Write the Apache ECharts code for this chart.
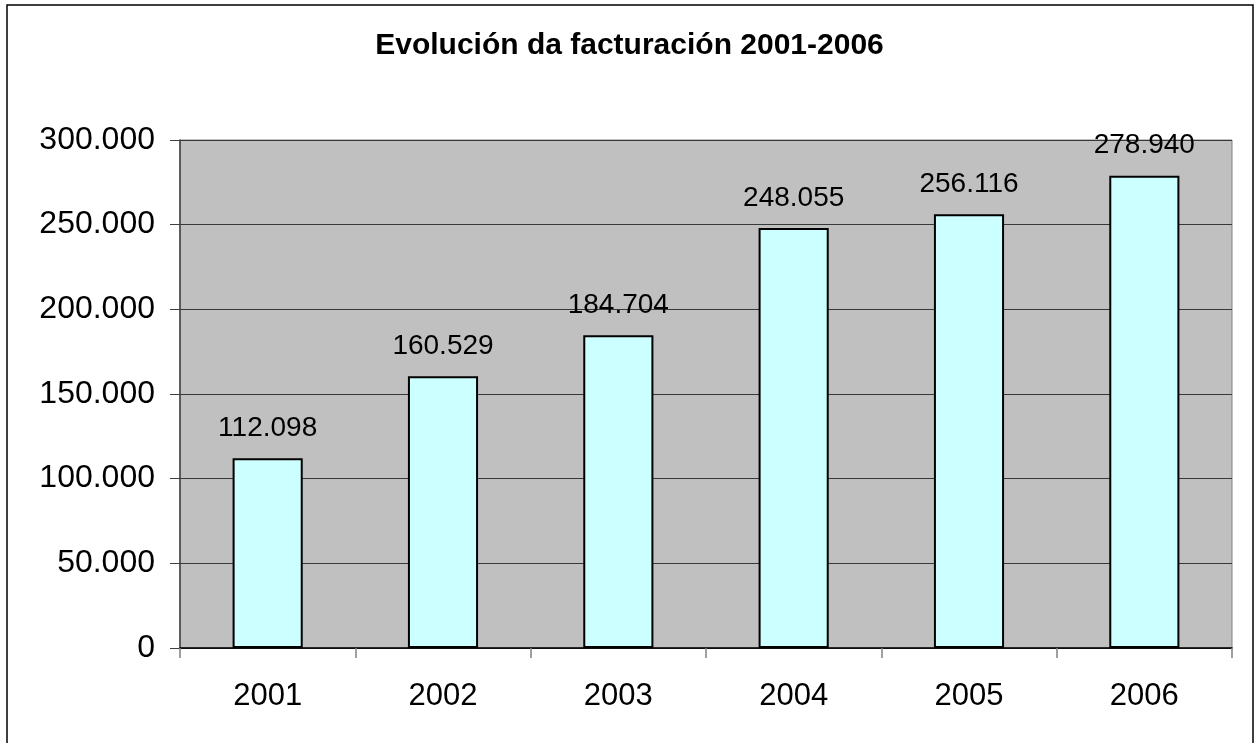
<!DOCTYPE html>
<html>
<head>
<meta charset="utf-8">
<script src="https://cdn.jsdelivr.net/npm/echarts@6/dist/echarts.min.js"></script>
<style>
  html, body { margin: 0; padding: 0; background: #fff; }
  #chart { width: 1259px; height: 743px; }
</style>
</head>
<body>
<div id="chart"></div>
<script>
// datos do gráfico
const years = ['2001', '2002', '2003', '2004', '2005', '2006']
const revenue = [112098, 160529, 184704, 248055, 256116, 278940]
const yTicks = [0, 50000, 100000, 150000, 200000, 250000, 300000]

// separador de miles con punto
function fmt(v) {
    return String(v).replace(/\B(?=(\d{3})+(?!\d))/g, '.')
}

const font = 'Liberation Sans, Arial, sans-serif'
const mychart = echarts.init(document.getElementById('chart'))

mychart.setOption({
    animation: false,
    backgroundColor: '#fff',
    title: {
        text: 'Evolución da facturación 2001-2006',
        left: 'center',
        top: 26,
        textStyle: {
            fontFamily: font,
            fontWeight: 'bold',
            fontSize: 30,
            color: '#000'
        }
    },
    // marco exterior
    graphic: [{
        type: 'rect',
        shape: { x: 7, y: 5, width: 1246, height: 760 },
        style: { fill: 'none', stroke: '#000', lineWidth: 1.5 },
        silent: true
    }],
    grid: {
        left: 180,
        right: 27,
        top: 140,
        bottom: 95,
        show: true,
        backgroundColor: '#C0C0C0',
        borderColor: '#808080',
        borderWidth: 1
    },
    xAxis: {
        type: 'category',
        data: years,
        axisLine: { lineStyle: { color: '#000', width: 1.5 } },
        axisTick: { show: true, length: 10, lineStyle: { color: '#808080', width: 1.5 } },
        axisLabel: {
            margin: 33,
            fontFamily: font,
            fontSize: 31,
            color: '#000'
        }
    },
    yAxis: {
        type: 'value',
        min: yTicks[0],
        max: yTicks[yTicks.length - 1],
        interval: yTicks[1] - yTicks[0],
        axisLine: { show: true, lineStyle: { color: '#404040', width: 1.5 } },
        axisTick: { show: true, length: 10, lineStyle: { color: '#404040' } },
        axisLabel: {
            margin: 25,
            fontFamily: font,
            fontSize: 32,
            color: '#000',
            formatter: fmt
        },
        splitLine: { show: true, lineStyle: { color: '#383838', width: 1 } }
    },
    series: [{
        type: 'bar',
        data: revenue,
        barWidth: '40%',
        itemStyle: {
            color: '#CCFFFF',
            borderColor: '#000',
            borderWidth: 2
        },
        label: {
            show: true,
            position: 'top',
            distance: 16,
            fontFamily: font,
            fontSize: 28,
            color: '#000',
            formatter: p => fmt(p.value)
        }
    }]
})
</script>
</body>
</html>
